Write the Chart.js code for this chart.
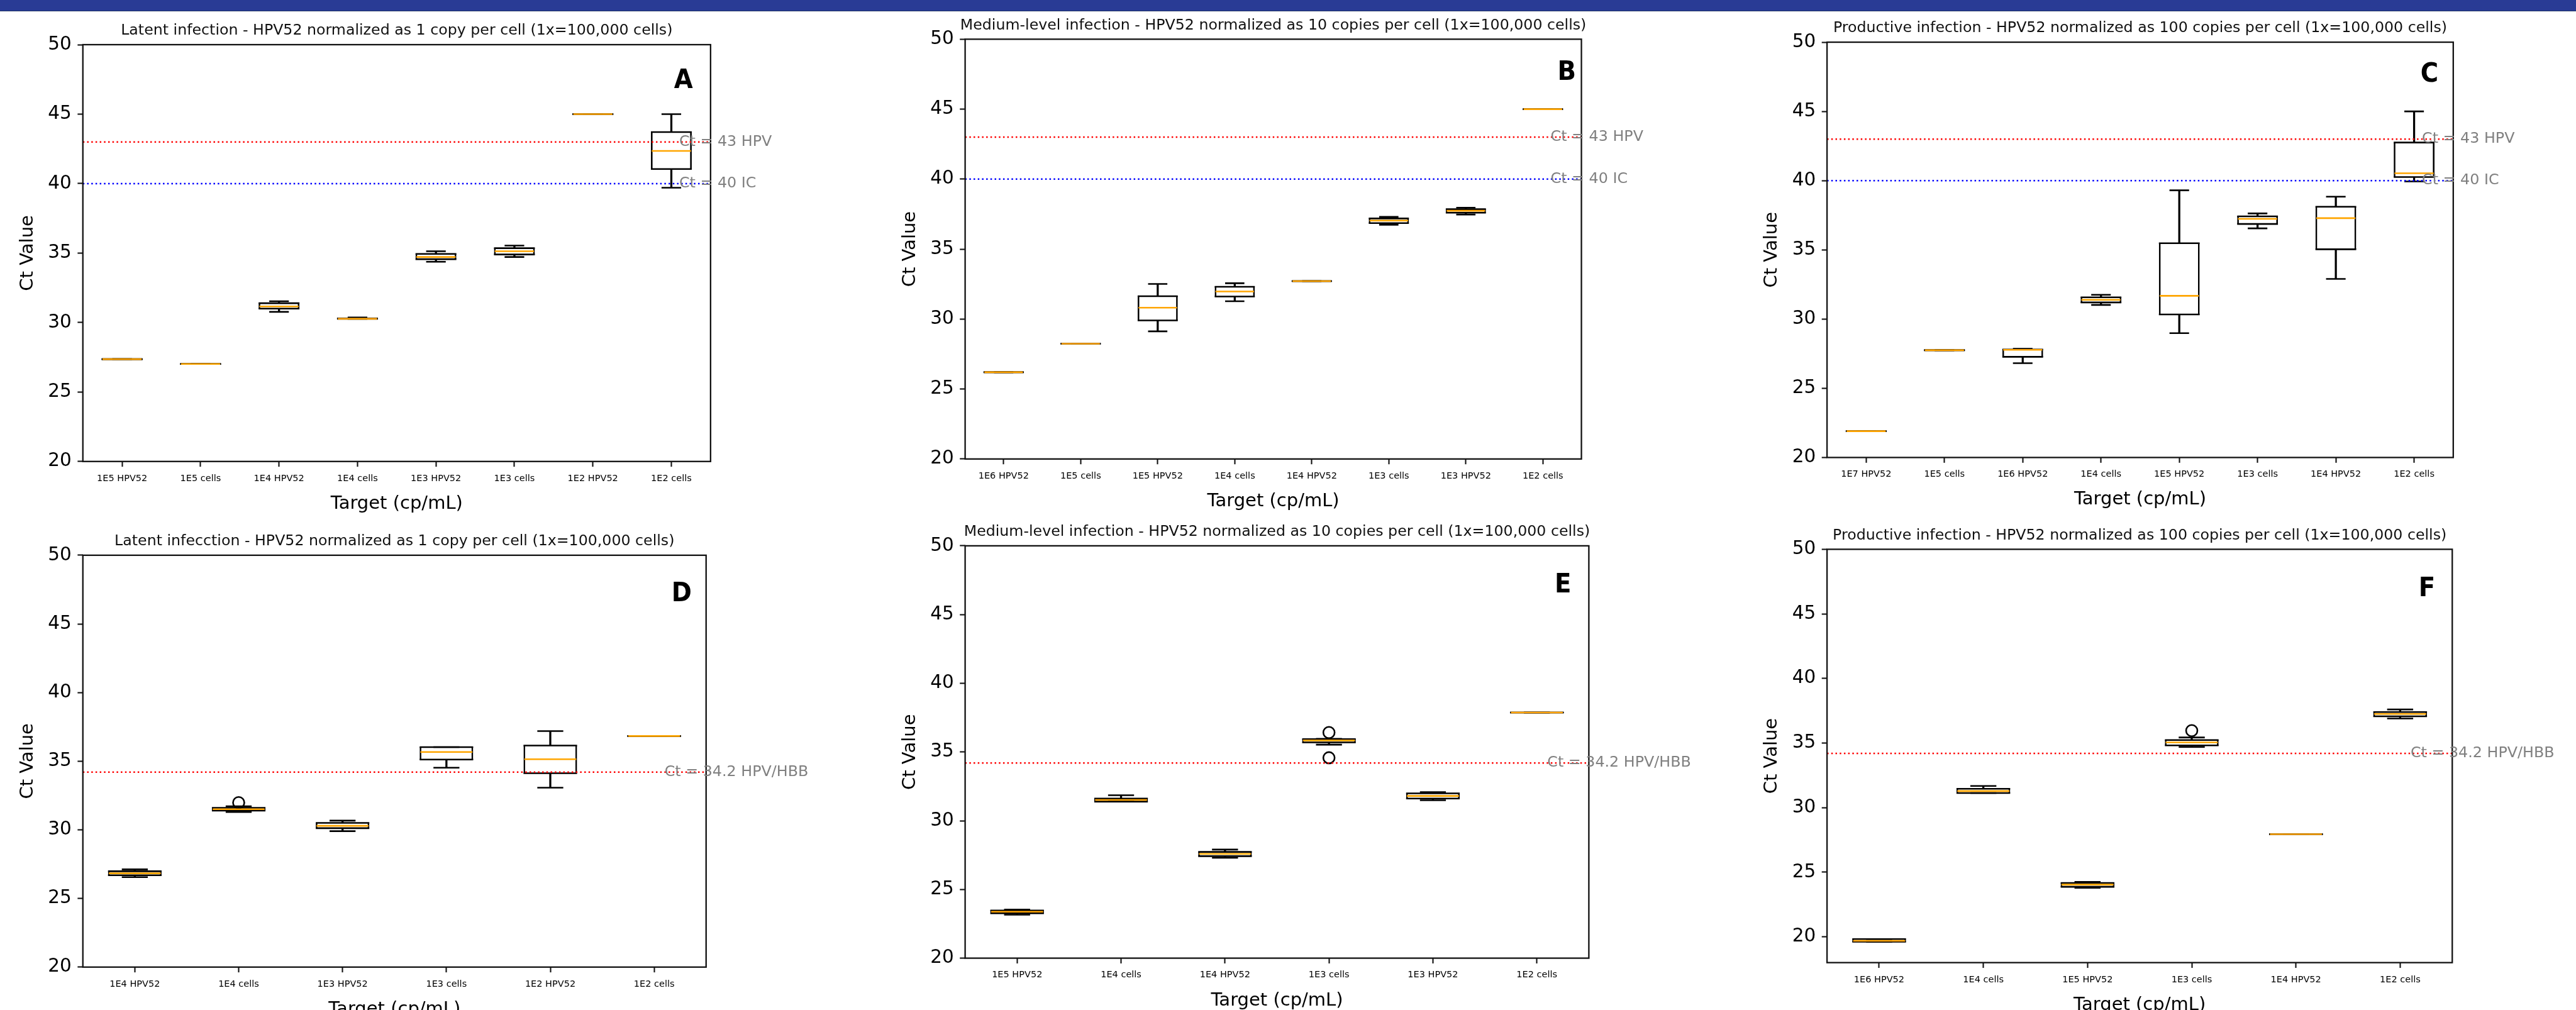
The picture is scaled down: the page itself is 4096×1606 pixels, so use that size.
<!DOCTYPE html>
<html>
<head>
<meta charset="utf-8">
<title>HPV52 Ct values by target</title>
<script src="https://cdn.jsdelivr.net/npm/chart.js@4.4.1/dist/chart.umd.min.js"></script>
<style>
  html, body { margin: 0; padding: 0; background: #fff; overflow: hidden; }
  body { width: 4096px; height: 1606px; position: relative; }
  #banner { position: absolute; left: 0; top: 0; width: 4096px; height: 17px; background: #293b95; border-bottom: 1px solid #1d3262; }
  canvas { position: absolute; }
</style>
</head>
<body>
<div id="banner"></div>
<script>
// Ct values (box = q1..q3, whiskers = min/max)
const aLabels = ['1E5 HPV52', '1E5 cells', '1E4 HPV52', '1E4 cells', '1E3 HPV52', '1E3 cells', '1E2 HPV52', '1E2 cells'];
const aMin = [27.36, 27.02, 30.77, 30.27, 34.37, 34.72, 45.0, 39.70];
const aQ1  = [27.36, 27.02, 31.00, 30.27, 34.56, 34.90, 45.0, 41.05];
const aMed = [27.36, 27.02, 31.16, 30.27, 34.72, 35.13, 45.0, 42.35];
const aQ3  = [27.36, 27.02, 31.39, 30.30, 34.94, 35.35, 45.0, 43.71];
const aMax = [27.36, 27.02, 31.53, 30.36, 35.13, 35.54, 45.0, 45.0];
const aFliers = [];

const bLabels = ['1E6 HPV52', '1E5 cells', '1E5 HPV52', '1E4 cells', '1E4 HPV52', '1E3 cells', '1E3 HPV52', '1E2 cells'];
const bMin = [26.2, 28.24, 29.12, 31.27, 32.71, 36.74, 37.47, 45.0];
const bQ1  = [26.2, 28.24, 29.90, 31.61, 32.71, 36.86, 37.60, 45.0];
const bMed = [26.2, 28.24, 30.81, 31.97, 32.71, 37.04, 37.74, 45.0];
const bQ3  = [26.2, 28.24, 31.63, 32.31, 32.71, 37.19, 37.85, 45.0];
const bMax = [26.2, 28.24, 32.51, 32.56, 32.71, 37.31, 37.96, 45.0];
const bFliers = [];

const cLabels = ['1E7 HPV52', '1E5 cells', '1E6 HPV52', '1E4 cells', '1E5 HPV52', '1E3 cells', '1E4 HPV52', '1E2 cells'];
const cMin = [21.9, 27.75, 26.81, 31.02, 28.98, 36.55, 32.90, 39.94];
const cQ1  = [21.9, 27.75, 27.27, 31.20, 30.33, 36.87, 35.04, 40.26];
const cMed = [21.9, 27.75, 27.78, 31.39, 31.68, 37.24, 37.29, 40.53];
const cQ3  = [21.9, 27.75, 27.80, 31.57, 35.48, 37.42, 38.11, 42.75];
const cMax = [21.9, 27.75, 27.86, 31.75, 39.30, 37.63, 38.84, 45.0];
const cFliers = [];

const dLabels = ['1E4 HPV52', '1E4 cells', '1E3 HPV52', '1E3 cells', '1E2 HPV52', '1E2 cells'];
const dMin = [26.55, 31.29, 29.90, 34.52, 33.07, 36.83];
const dQ1  = [26.69, 31.40, 30.12, 35.12, 34.12, 36.83];
const dMed = [26.83, 31.50, 30.29, 35.67, 35.14, 36.83];
const dQ3  = [26.98, 31.60, 30.50, 36.02, 36.14, 36.83];
const dMax = [27.12, 31.71, 30.67, 36.02, 37.19, 36.83];
const dFliers = [{ x: '1E4 cells', y: 31.98 }];

const eLabels = ['1E5 HPV52', '1E4 cells', '1E4 HPV52', '1E3 cells', '1E3 HPV52', '1E2 cells'];
const eMin = [23.16, 31.39, 27.30, 35.53, 31.49, 37.87];
const eQ1  = [23.26, 31.39, 27.42, 35.70, 31.61, 37.87];
const eMed = [23.38, 31.51, 27.59, 35.84, 31.80, 37.87];
const eQ3  = [23.47, 31.61, 27.73, 35.93, 31.99, 37.87];
const eMax = [23.54, 31.85, 27.90, 35.96, 32.08, 37.87];
const eFliers = [{ x: '1E3 cells', y: 36.42 }, { x: '1E3 cells', y: 34.58 }];

const fLabels = ['1E6 HPV52', '1E4 cells', '1E5 HPV52', '1E3 cells', '1E4 HPV52', '1E2 cells'];
const fMin = [19.62, 31.13, 23.79, 34.70, 27.94, 36.90];
const fQ1  = [19.62, 31.13, 23.87, 34.82, 27.94, 37.07];
const fMed = [19.69, 31.28, 24.04, 35.05, 27.94, 37.25];
const fQ3  = [19.82, 31.46, 24.17, 35.23, 27.94, 37.40];
const fMax = [19.82, 31.68, 24.25, 35.43, 27.94, 37.60];
const fFliers = [{ x: '1E3 cells', y: 35.96 }];

const yTicks = [20, 25, 30, 35, 40, 45, 50];
const abcCutoffs = [43, 40];
const abcCutoffLabels = ['Ct = 43 HPV', 'Ct = 40 IC'];
const defCutoffs = [34.2];
const defCutoffLabels = ['Ct = 34.2 HPV/HBB'];

const titles = [
  'Latent infection - HPV52 normalized as 1 copy per cell (1x=100,000 cells)',
  'Medium-level infection - HPV52 normalized as 10 copies per cell (1x=100,000 cells)',
  'Productive infection - HPV52 normalized as 100 copies per cell (1x=100,000 cells)',
  'Latent infecction - HPV52 normalized as 1 copy per cell (1x=100,000 cells)',
  'Medium-level infection - HPV52 normalized as 10 copies per cell (1x=100,000 cells)',
  'Productive infection - HPV52 normalized as 100 copies per cell (1x=100,000 cells)'
];
const letters = ['A', 'B', 'C', 'D', 'E', 'F'];

// layout (reference pixels, scaled by S)
const S = 0.789;
const LW = 2.6;
const ORANGE = '#ffa500';
const TEXT = '#000';
const FONT = '"DejaVu Sans", "Noto Sans", sans-serif';

Chart.defaults.font.family = FONT;

const panels = [
  { labels: aLabels, min: aMin, q1: aQ1, med: aMed, q3: aQ3, max: aMax, fliers: aFliers, cut: abcCutoffs, cutLabels: abcCutoffLabels, cutColors: ['#ff0000', '#0000ff'], yMin: 20, plot: [167, 1432, 90, 930], letterAt: [35, 88] },
  { labels: bLabels, min: bMin, q1: bQ1, med: bMed, q3: bQ3, max: bMax, fliers: bFliers, cut: abcCutoffs, cutLabels: abcCutoffLabels, cutColors: ['#ff0000', '#0000ff'], yMin: 20, plot: [1945, 3187, 79, 925], letterAt: [14, 82] },
  { labels: cLabels, min: cMin, q1: cQ1, med: cMed, q3: cQ3, max: cMax, fliers: cFliers, cut: abcCutoffs, cutLabels: abcCutoffLabels, cutColors: ['#ff0000', '#0000ff'], yMin: 20, plot: [3682, 4944, 85, 922], letterAt: [33, 80] },
  { labels: dLabels, min: dMin, q1: dQ1, med: dMed, q3: dQ3, max: dMax, fliers: dFliers, cut: defCutoffs, cutLabels: defCutoffLabels, cutColors: ['#ff0000'], yMin: 20, plot: [167, 1423, 1119, 1949], letterAt: [31, 93] },
  { labels: eLabels, min: eMin, q1: eQ1, med: eMed, q3: eQ3, max: eMax, fliers: eFliers, cut: defCutoffs, cutLabels: defCutoffLabels, cutColors: ['#ff0000'], yMin: 20, plot: [1945, 3202, 1100, 1931], letterAt: [38, 94] },
  { labels: fLabels, min: fMin, q1: fQ1, med: fMed, q3: fQ3, max: fMax, fliers: fFliers, cut: defCutoffs, cutLabels: defCutoffLabels, cutColors: ['#ff0000'], yMin: 18, plot: [3682, 4942, 1107, 1940], letterAt: [38, 94] }
];

// cut-off lines, frame, titles and panel letters
const panelDeco = {
  id: 'panelDeco',
  afterDatasetsDraw(chart, args, opts) {
    const { ctx, chartArea: a, scales: { x, y } } = chart;
    ctx.save();
    opts.cut.forEach((v, i) => {
      const py = y.getPixelForValue(v);
      ctx.beginPath();
      ctx.setLineDash([2.5, 4.2]);
      ctx.lineWidth = 2.5;
      ctx.strokeStyle = opts.cutColors[i];
      ctx.moveTo(a.left, py);
      ctx.lineTo(a.right, py);
      ctx.stroke();
    });
    ctx.setLineDash([]);
    ctx.lineWidth = 2.3;
    ctx.strokeStyle = '#111';
    ctx.strokeRect(a.left, a.top, a.right - a.left, a.bottom - a.top);

    ctx.font = '23.8px ' + FONT;
    ctx.fillStyle = '#808080';
    ctx.textAlign = 'left';
    ctx.textBaseline = 'middle';
    const lx = x.getPixelForValue(opts.n - 0.9);
    opts.cut.forEach((v, i) => ctx.fillText(opts.cutLabels[i], lx, y.getPixelForValue(v)));

    ctx.font = '23.7px ' + FONT;
    ctx.fillStyle = '#111';
    ctx.textAlign = 'center';
    ctx.textBaseline = 'alphabetic';
    ctx.fillText(opts.title, (a.left + a.right) / 2, a.top - 15.8);

    ctx.font = 'bold 43px ' + FONT;
    ctx.fillStyle = '#000';
    ctx.textAlign = 'left';
    const m = ctx.measureText(opts.letter);
    const sx = 0.9;
    const right = a.right - opts.letterAt[0] * S;
    ctx.translate(right - m.actualBoundingBoxRight * sx, a.top + opts.letterAt[1] * S);
    ctx.scale(sx, 1);
    ctx.fillText(opts.letter, 0, 0);
    ctx.restore();
  }
};

function tickGrid() {
  return { display: true, drawOnChartArea: false, drawTicks: true, tickLength: 8.4, tickWidth: 2.1, tickColor: '#111', offset: false };
}

function makePanel(p, k) {
  const L = p.plot[0] * S, R = p.plot[1] * S, T = p.plot[2] * S, B = p.plot[3] * S;
  const cl = Math.round(L - 126), ct = Math.round(T - 60);
  const cw = Math.round(R + 190) - cl, ch = Math.round(B + 90) - ct;
  const yAxisW = L - cl;
  const padTop = T - ct;
  const padRight = cw - (R - cl);
  const xAxisH = ch - (B - ct);
  const n = p.labels.length;
  const catW = (R - L) / n;

  const canvas = document.createElement('canvas');
  canvas.width = cw;
  canvas.height = ch;
  canvas.style.left = cl + 'px';
  canvas.style.top = ct + 'px';
  canvas.style.width = cw + 'px';
  canvas.style.height = ch + 'px';
  document.body.appendChild(canvas);

  const hLine = (label, data, radius, color, order) => ({
    type: 'line', label, data, showLine: false, order,
    pointStyle: 'line', pointRadius: radius, pointHoverRadius: radius,
    pointBorderColor: color, pointBackgroundColor: color, pointBorderWidth: LW, pointHoverBorderWidth: LW
  });

  new Chart(canvas, {
    type: 'bar',
    data: {
      labels: p.labels,
      datasets: [
        hLine('median', p.med, catW / 4, ORANGE, 0),
        {
          type: 'line', label: 'outliers', data: p.fliers, showLine: false, order: 1,
          pointStyle: 'circle', pointRadius: 9, pointHoverRadius: 9,
          pointBorderColor: '#000', pointBackgroundColor: 'rgba(0,0,0,0)', pointBorderWidth: LW
        },
        hLine('min', p.min, catW / 8, '#000', 2),
        hLine('max', p.max, catW / 8, '#000', 2),
        hLine('q1', p.q1, catW / 4 + LW / 2, '#000', 3),
        hLine('q3', p.q3, catW / 4 + LW / 2, '#000', 3),
        {
          label: 'box', data: p.q1.map((v, i) => [v, p.q3[i]]), order: 4,
          backgroundColor: 'rgba(0,0,0,0)', borderColor: '#000',
          borderWidth: { top: 0, bottom: 0, left: LW, right: LW }, borderSkipped: false,
          barPercentage: 0.5 + LW / catW, categoryPercentage: 1, grouped: false
        },
        {
          label: 'lower whisker', data: p.min.map((v, i) => [v, p.q1[i]]), order: 5,
          backgroundColor: '#000', borderWidth: 0, barThickness: LW, grouped: false
        },
        {
          label: 'upper whisker', data: p.q3.map((v, i) => [v, p.max[i]]), order: 5,
          backgroundColor: '#000', borderWidth: 0, barThickness: LW, grouped: false
        }
      ]
    },
    options: {
      responsive: false,
      devicePixelRatio: 1,
      animation: false,
      events: [],
      layout: { padding: { left: 0, top: padTop, right: padRight, bottom: 0 } },
      plugins: {
        legend: { display: false },
        tooltip: { enabled: false },
        panelDeco: { cut: p.cut, cutLabels: p.cutLabels, cutColors: p.cutColors, n, title: titles[k], letter: letters[k], letterAt: p.letterAt }
      },
      scales: {
        x: {
          type: 'category',
          offset: true,
          grid: tickGrid(),
          border: { display: false },
          ticks: { autoSkip: false, maxRotation: 0, minRotation: 0, padding: 11.5, color: TEXT, font: { size: 14.5, lineHeight: 1 } },
          title: { display: true, text: 'Target (cp/mL)', color: TEXT, font: { size: 29, lineHeight: 1 }, padding: { top: 0, bottom: xAxisH - 82 } },
          afterFit: s => { s.height = xAxisH; }
        },
        y: {
          type: 'linear',
          min: p.yMin,
          max: 50,
          afterBuildTicks: s => { s.ticks = yTicks.map(v => ({ value: v })); },
          grid: tickGrid(),
          border: { display: false },
          ticks: { padding: 9.5, color: TEXT, font: { size: 29.5, lineHeight: 1 } },
          title: { display: true, text: 'Ct Value', color: TEXT, font: { size: 29, lineHeight: 1 }, padding: { top: yAxisW - 102.1, bottom: 0 } },
          afterFit: s => { s.width = yAxisW; }
        }
      }
    },
    plugins: [panelDeco]
  });
}

panels.forEach(makePanel);
</script>
</body>
</html>
